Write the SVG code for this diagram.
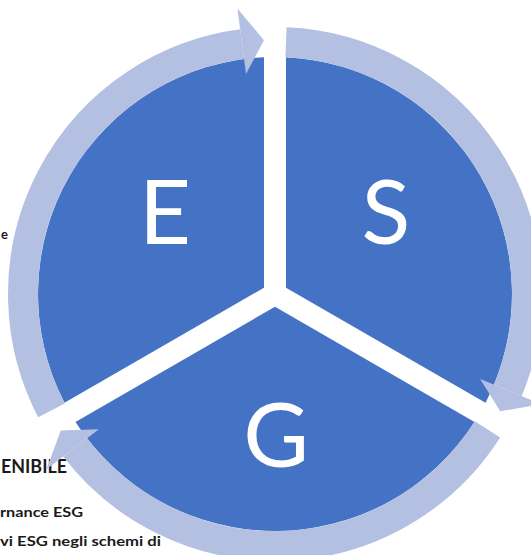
<svg xmlns="http://www.w3.org/2000/svg" width="531" height="555" viewBox="0 0 531 555">
<style>
.sector{fill:#4472C4;}
.letter{fill:#FFFFFF;font-family:Lato,"Liberation Sans",sans-serif;font-size:90px;text-anchor:middle;}
.ring{fill:none;stroke:#B4C0E1;stroke-width:30;}
.head{fill:#B4C0E1;}
.side{fill:#1A1A1A;font-family:Lato,"Liberation Sans",sans-serif;font-weight:bold;}
</style>
<rect width="531" height="555" fill="#FFFFFF"/>
<g id="side-text">
<text class="side" x="1" y="239" font-size="13">e</text>
<text class="side" x="1" y="473" font-size="18" textLength="66" lengthAdjust="spacingAndGlyphs">ENIBILE</text>
<text class="side" x="0" y="517" font-size="13" textLength="83" lengthAdjust="spacingAndGlyphs">rnance ESG</text>
<text class="side" x="0" y="546" font-size="13" textLength="161" lengthAdjust="spacingAndGlyphs">vi ESG negli schemi di</text>
</g>
<g id="node-E">
<path class="sector" d="M264,287.65 L264,57.26 A237,237 0 0,0 64.48,402.84 Z"/>
<text class="letter" x="165" y="244">E</text>
</g>
<g id="node-S">
<path class="sector" d="M286,287.65 L286,57.26 A237,237 0 0,1 485.52,402.84 Z"/>
<text class="letter" x="386" y="244">S</text>
</g>
<g id="node-G">
<path class="sector" d="M275,306.7 L474.52,421.9 A237,237 0 0,1 75.48,421.9 Z"/>
<text class="letter" x="276" y="467">G</text>
</g>
<g id="connectors">
<path class="ring" d="M51.47,410.36 A252,252 0 0,1 242.11,44.16"/>
<polygon class="head" points="246.02,73.90 237.41,8.47 263.92,40.24"/>
<path class="ring" d="M285.99,42.24 A252,252 0 0,1 507.82,390.44"/>
<polygon class="head" points="480.10,378.96 541.08,404.21 500.30,411.28"/>
<path class="ring" d="M487.53,429.40 A252,252 0 0,1 75.08,447.41"/>
<polygon class="head" points="98.88,429.14 46.52,469.32 60.78,430.47"/>
</g>
</svg>
